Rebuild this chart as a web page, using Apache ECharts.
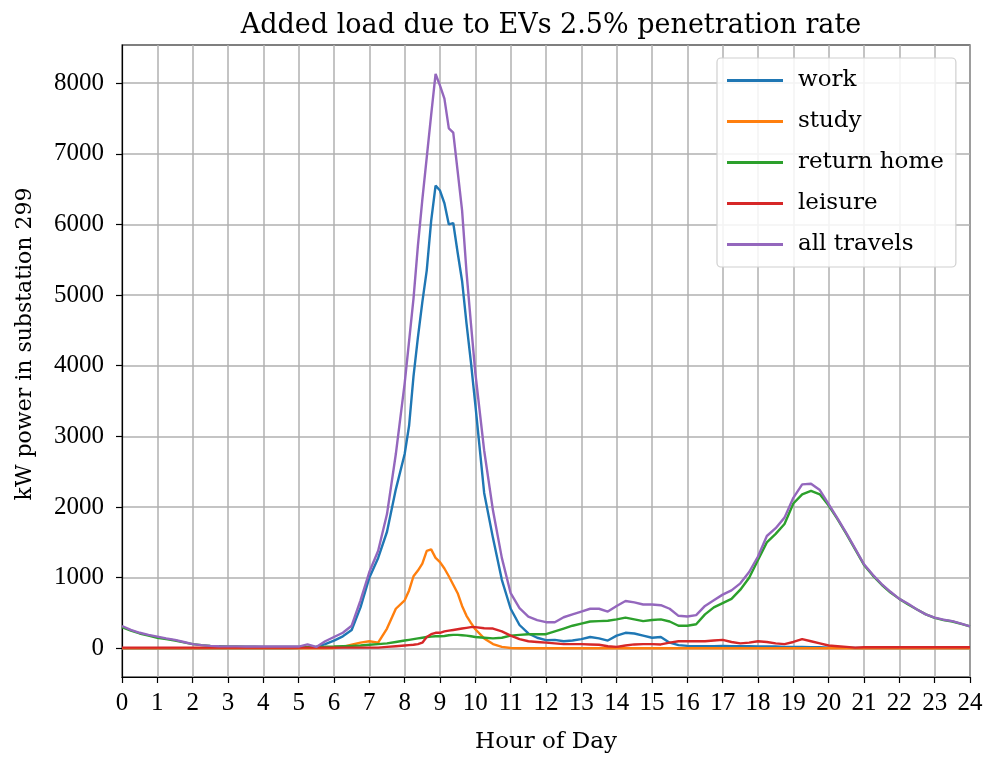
<!DOCTYPE html>
<html>
<head>
<meta charset="utf-8">
<script src="https://cdn.jsdelivr.net/npm/echarts@6/dist/echarts.min.js"></script>
<style>
  body{margin:0;background:#fff;}
  #chart{width:987px;height:759px;}
</style>
</head>
<body>
<div id="chart"></div>
<script>
// hour of day (finer steps round the morning peak)
const hours = [
  0,0.25,0.5,0.75,1,1.25,1.5,1.75,2,2.25,2.5,2.75,3,3.25,3.5,3.75,
  4,4.25,4.5,4.75,5,5.25,5.5,5.75,6,6.25,6.5,6.75,7,7.25,7.5,7.75,
  8,8.125,8.25,8.375,8.5,8.625,8.75,8.875,9,9.125,9.25,9.375,9.5,9.625,9.75,9.875,10,
  10.25,10.5,10.75,11,11.25,11.5,11.75,12,12.25,12.5,12.75,13,13.25,13.5,13.75,14,
  14.25,14.5,14.75,15,15.25,15.5,15.75,16,16.25,16.5,16.75,17,17.25,17.5,17.75,18,
  18.25,18.5,18.75,19,19.25,19.5,19.75,20,20.25,20.5,20.75,21,21.25,21.5,21.75,22,
  22.25,22.5,22.75,23,23.25,23.5,23.75,24
];

const work = [
  0,0,0,0,0,0,0,0, 0,0,0,0,0,0,0,0, 0,0,0,0,5,10,20,60, 110,170,260,580,1000,1280,1650,2250,
  2750,3150,3850,4400,4900,5350,6050,6550,6480,6300,6000,6020,5600,5200,4600,4050,3450,
  2200,1560,970,560, 330,210,150,115, 120,100,110,130, 160,140,110,180,
  220,210,180,150, 160,80,45,35, 30,30,30,35, 30,30,30,25,
  25,25,20,20, 20,15,15,10, 10,10,5,5, 5,5,5,5,
  5,5,5,5, 5,5,5,5
];
const study = [
  0,0,0,0,0,0,0,0, 0,0,0,0,0,0,0,0, 0,0,0,0,0,0,0,0, 5,20,50,80,100,80,280,560,
  680,820,1020,1100,1200,1380,1400,1280,1220,1130,1020,900,780,600,460,360,270,
  140,60,20,5, 0,0,0,0, 0,0,0,0, 0,0,0,0,
  0,0,0,0, 0,0,0,0, 0,0,0,0, 0,0,0,0,
  0,0,0,0, 0,0,0,0, 0,0,0,0, 0,0,0,0,
  0,0,0,0, 0,0,0,0
];
const returnHome = [
  300,250,210,180,150,130,110,85, 60,45,35,30,25,25,22,22, 20,20,20,20,20,20,20,22, 25,30,35,40,50,60,70,90,
  110,120,130,140,150,160,165,170,170,175,185,190,190,185,180,170,160,
  150,140,150,180, 190,200,200,200, 240,280,320,350, 380,385,390,410,
  435,410,385,400, 410,380,320,320, 340,480,580,640, 700,830,1000,1250,
  1500,1620,1760,2050, 2180,2230,2180,2020, 1830,1620,1400,1180, 1030,900,790,700,
  620,550,480,430, 400,380,345,310
];
const leisure = [
  10,10,10,10,10,10,10,10, 10,10,10,10,10,10,10,10, 10,10,10,10,10,10,10,10, 10,10,10,10,10,10,20,30,
  40,45,50,60,80,160,200,220,220,240,250,260,270,280,290,300,300,
  285,280,240,180, 130,100,90,80, 70,60,60,60, 55,50,30,20,
  40,55,60,60, 55,80,100,100, 100,100,110,120, 90,70,80,100,
  90,70,60,90, 130,100,70,40, 30,20,10,15, 15,15,15,15,
  15,15,15,15, 15,15,15,15
];
const allTravels = [
  316,260,220,190,165,140,120,90, 60,45,35,30,28,27,25,25, 25,25,25,25,25,55,20,100, 160,220,320,680,1080,1380,1900,2750,
  3750,4350,4950,5700,6350,6950,7550,8130,7965,7780,7360,7300,6750,6200,5330,4600,3900,
  2800,1950,1280,780, 570,450,400,370, 370,440,480,520, 560,560,520,600,
  670,650,620,620, 610,560,460,450, 470,600,680,760, 820,920,1080,1300,
  1590,1700,1850,2130, 2320,2330,2240,2040, 1840,1630,1410,1190, 1040,910,800,700,
  630,550,480,435, 405,385,350,310
];

const seriesNames = ['work', 'study', 'return home', 'leisure', 'all travels'];
const seriesValues = [work, study, returnHome, leisure, allTravels];
const colors = ['#1f77b4', '#ff7f0e', '#2ca02c', '#d62728', '#9467bd'];
const yTicks = [0, 1000, 2000, 3000, 4000, 5000, 6000, 7000, 8000];

// words in a wide serif, digits in a narrower one
const wordFont = '"DejaVu Serif", serif';
const numFont = '"Liberation Serif", serif';

const chart = echarts.init(document.getElementById('chart'));

chart.setOption({
  animation: false,
  backgroundColor: '#fff',
  color: colors,
  title: {
    text: 'Added load due to EVs 2.5% penetration rate',
    left: 546,
    top: 7,
    textAlign: 'center',
    textStyle: {fontFamily: wordFont, fontSize: 27, fontWeight: 'normal', color: '#000'}
  },
  grid: {
    left: 122, right: 17, top: 45, bottom: 80,
    show: true, borderColor: '#000', borderWidth: 1.2, backgroundColor: 'transparent'
  },
  legend: {
    orient: 'vertical',
    left: 717, top: 58,
    padding: [11, 12, 11, 10],
    itemWidth: 56, itemHeight: 3, itemGap: 18,
    icon: 'rect',
    backgroundColor: 'rgba(255,255,255,0.85)',
    borderColor: '#d0d0d0', borderWidth: 1.2, borderRadius: 4,
    textStyle: {fontFamily: wordFont, fontSize: 23, color: '#000', padding: [0, 0, 0, 10]},
    data: seriesNames
  },
  xAxis: {
    type: 'value',
    min: 0, max: 24, interval: 1,
    name: 'Hour of Day',
    nameLocation: 'middle',
    nameGap: 54,
    nameTextStyle: {fontFamily: wordFont, fontSize: 23, color: '#000'},
    axisLine: {onZero: false, lineStyle: {color: '#000', width: 1.2}},
    axisTick: {length: 6, lineStyle: {color: '#000', width: 1.2}},
    axisLabel: {fontFamily: numFont, fontSize: 25, color: '#000', margin: 14},
    splitLine: {show: true, lineStyle: {color: '#b0b0b0', width: 1.5}}
  },
  yAxis: {
    type: 'value',
    min: -406, max: 8540,
    minInterval: 1000, maxInterval: 1000,
    name: 'kW power in substation 299',
    nameLocation: 'middle',
    nameGap: 86,
    nameTextStyle: {fontFamily: wordFont, fontSize: 22, color: '#000', padding: [0, 0, 0, 34]},
    axisLine: {show: true, onZero: false, lineStyle: {color: '#000', width: 1.2}},
    axisTick: {show: true, length: 6, customValues: yTicks, lineStyle: {color: '#000', width: 1.2}},
    axisLabel: {
      fontFamily: numFont, fontSize: 25, color: '#000', margin: 18, customValues: yTicks,
      formatter: function (v) { return String(v); }
    },
    splitLine: {show: true, lineStyle: {color: '#b0b0b0', width: 1.5}}
  },
  series: seriesNames.map((name, i) => ({
    name: name,
    type: 'line',
    showSymbol: false,
    symbol: 'none',
    lineStyle: {width: 2.4, color: colors[i]},
    data: hours.map((h, j) => [h, seriesValues[i][j]])
  }))
});
</script>
</body>
</html>
